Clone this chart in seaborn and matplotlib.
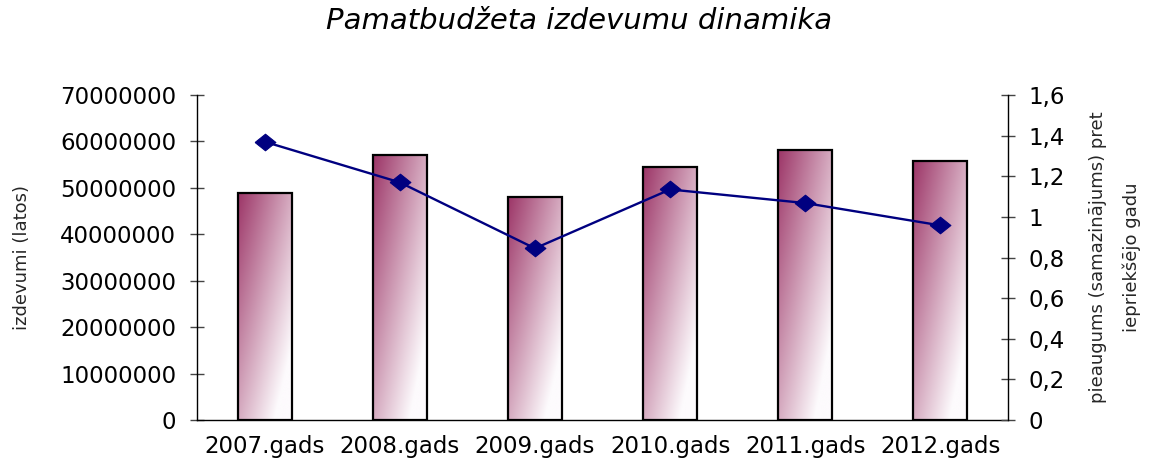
import numpy as np
import matplotlib
matplotlib.use("Agg")
import matplotlib.pyplot as plt
from matplotlib.ticker import FixedLocator, FuncFormatter
from matplotlib.colors import to_rgb
import seaborn as sns

# ---- data ----
years = ["2007.gads", "2008.gads", "2009.gads", "2010.gads", "2011.gads", "2012.gads"]
expenses = [48900000, 57000000, 48100000, 54500000, 58200000, 55800000]
growth = [1.37, 1.17, 0.845, 1.135, 1.068, 0.958]
left_ticks = [0, 10000000, 20000000, 30000000, 40000000, 50000000, 60000000, 70000000]
right_ticks = [0, 0.2, 0.4, 0.6, 0.8, 1.0, 1.2, 1.4, 1.6]

title = "Pamatbudžeta izdevumu dinamika"
ylabel_left = "izdevumi (latos)"
ylabel_right = "pieaugums (samazinājums) pret\niepriekšējo gadu"

sns.set_style("white")
plt.rcParams["font.family"] = ["DejaVu Sans"]

W, H = 1161, 461
fig = plt.figure(figsize=(W / 100, H / 100), dpi=100)
fig.patch.set_facecolor("white")
ax = fig.add_axes([197 / W, 1 - 420 / H, 811 / W, 325 / H])
ax.set_facecolor("white")

sns.barplot(x=years, y=expenses, ax=ax, width=0.4, color="white")
bars = list(ax.patches)
for p in bars:
    p.set_facecolor("none")
    p.set_edgecolor("black")
    p.set_linewidth(1.6)
    p.set_zorder(2)

# diagonal gradient fill (plum top-left -> white bottom-right)
dark = np.array(to_rgb("#9c3567"))
light = np.array(to_rgb("#fdfbfd"))
u = np.linspace(0, 1, 64)[None, :]
v = np.linspace(0, 1, 256)[:, None]
t = np.clip(0.6 * u + 0.6 * v, 0, 1)
img = dark[None, None, :] * (1 - t[..., None]) + light[None, None, :] * t[..., None]
for p in bars:
    x0, y0, w, h = p.get_x(), p.get_y(), p.get_width(), p.get_height()
    im = ax.imshow(img, extent=(x0, x0 + w, y0, y0 + h), origin="upper",
                   aspect="auto", interpolation="bilinear", zorder=1.5)
    im.set_clip_path(p)

ax.set_xlim(-0.5, len(years) - 0.5)
ax.set_ylim(0, 70000000)
ax.yaxis.set_major_locator(FixedLocator(left_ticks))
ax.yaxis.set_major_formatter(FuncFormatter(lambda val, pos: f"{int(round(val))}"))
ax.set_xticks(range(len(years)))
ax.set_xticklabels(years)
ax.xaxis.set_minor_locator(FixedLocator(np.arange(-0.5, len(years), 1.0)))
ax.tick_params(axis="x", which="major", length=0, pad=11, labelsize=16.5, colors="black")
ax.tick_params(axis="x", which="minor", direction="inout", length=10, width=1, color="#444444")
ax.tick_params(axis="y", which="major", direction="inout", length=10, width=1,
               color="#444444", pad=10, labelsize=16.5, labelcolor="black")
for s in ["top", "right"]:
    ax.spines[s].set_visible(False)
for s in ["left", "bottom"]:
    ax.spines[s].set_color("black")
    ax.spines[s].set_linewidth(1)
ax.set_xlabel("")
ax.set_ylabel(ylabel_left, fontsize=13, va="center", ha="center")
ax.yaxis.set_label_coords((22 - 197) / 811, 0.5)

# secondary axis with the growth line
ax2 = ax.twinx()
diamond = [(-1, 0), (0, 0.8), (1, 0), (0, -0.8), (-1, 0)]
sns.lineplot(x=years, y=growth, ax=ax2, color="#000080", linewidth=1.7,
             marker=diamond, markersize=15, markeredgecolor="#000080",
             markerfacecolor="#000080", sort=False)
ax2.set_xlim(-0.5, len(years) - 0.5)
ax2.set_ylim(0, 1.6)
ax2.yaxis.set_major_locator(FixedLocator(right_ticks))
ax2.yaxis.set_major_formatter(FuncFormatter(
    lambda val, pos: f"{round(val, 2):g}".replace(".", ",")))
ax2.tick_params(axis="y", which="major", direction="inout", length=10, width=1,
                color="#444444", pad=10, labelsize=16.5, labelcolor="black")
for s in ["top", "left", "bottom"]:
    ax2.spines[s].set_visible(False)
ax2.spines["right"].set_color("black")
ax2.spines["right"].set_linewidth(1)
ax2.set_ylabel(ylabel_right, fontsize=13, rotation=90, va="center", ha="center",
               linespacing=2.1)
ax2.yaxis.set_label_coords((1115 - 197) / 811, 0.5)

fig.text(579 / W, 1 - 21 / H, title, fontsize=21, style="italic",
         ha="center", va="center", color="black")

fig.savefig("out.png", dpi=100, facecolor="white")
